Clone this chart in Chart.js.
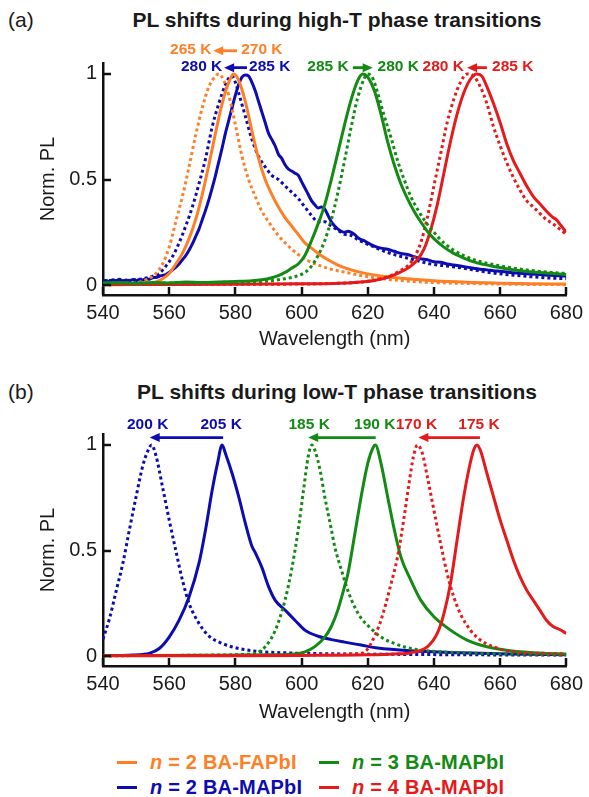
<!DOCTYPE html>
<html>
<head>
<meta charset="utf-8">
<title>PL shifts during phase transitions</title>
<style>
body { margin: 0; background: #fff; font-family: "Liberation Sans", Arial, sans-serif; color: #1a1a1a; }
#page { position: relative; width: 589px; height: 797px; overflow: hidden; }
canvas { position: absolute; left: 0; }
.tag { position: absolute; left: 8px; font-size: 21px; line-height: 24px; }
.ttl { position: absolute; left: 0; width: 674px; text-align: center; font-weight: bold; font-size: 21px; line-height: 24px; }
.leg { position: absolute; font-weight: bold; font-size: 20px; line-height: 24px; white-space: nowrap; letter-spacing: 0.2px; }
.leg i { font-weight: bold; }
.dash { position: absolute; width: 20px; height: 3px; }
</style>
</head>
<body>
<div id="page">
  <div class="tag" style="top:8px">(a)</div>
  <div class="ttl" style="top:8px">PL shifts during high-T phase transitions</div>
  <canvas id="chartA" width="589" height="352" style="top:0px"></canvas>

  <div class="tag" style="top:380px">(b)</div>
  <div class="ttl" style="top:380px">PL shifts during low-T phase transitions</div>
  <canvas id="chartB" width="589" height="354" style="top:371px"></canvas>

  <div class="dash" style="left:117px; top:761px; background:#ff7f27"></div>
  <div class="leg" style="left:150px; top:750px; color:#ff7f27"><i>n</i> = 2 BA-FAPbI</div>
  <div class="dash" style="left:319px; top:761px; background:#138a13"></div>
  <div class="leg" style="left:352px; top:750px; color:#138a13"><i>n</i> = 3 BA-MAPbI</div>
  <div class="dash" style="left:117px; top:786px; background:#0c0cb0"></div>
  <div class="leg" style="left:150px; top:775px; color:#0c0cb0"><i>n</i> = 2 BA-MAPbI</div>
  <div class="dash" style="left:319px; top:786px; background:#e51a1a"></div>
  <div class="leg" style="left:352px; top:775px; color:#e51a1a"><i>n</i> = 4 BA-MAPbI</div>
</div>

<script src="https://cdn.jsdelivr.net/npm/chart.js@4.4.1/dist/chart.umd.min.js"></script>
<script>
// tick values
const xTickVals = [540, 560, 580, 600, 620, 640, 660, 680];
const yTickVals = [0, 0.5, 1];

// ---- panel (a): high-T transitions, [wavelength nm, norm PL] ----
const aOrange270 = [[540,0.002],[545,0.002],[550,0.004],[553,0.007],[556,0.015],[558,0.03],[560,0.055],[562,0.1],[564,0.15],[566,0.22],[568,0.31],[570,0.43],[572,0.57],[574,0.72],[576,0.86],[578,0.96],[579.5,1.0],[581,0.97],[583,0.87],[585,0.73],[587,0.6],[589,0.5],[591,0.43],[593,0.37],[595,0.32],[597,0.28],[599,0.24],[601,0.2],[603,0.175],[605,0.15],[608,0.12],[611,0.095],[615,0.072],[620,0.053],[625,0.041],[630,0.032],[640,0.02],[650,0.013],[660,0.009],[670,0.006],[680,0.005]];
const aOrange265 = [[540,0.002],[545,0.004],[550,0.01],[553,0.025],[556,0.055],[558,0.1],[560,0.18],[562,0.3],[564,0.42],[566,0.56],[568,0.71],[570,0.84],[572,0.94],[574,0.99],[575,1.0],[576.5,0.97],[578,0.9],[580,0.76],[582,0.61],[584,0.5],[586,0.42],[588,0.35],[590,0.3],[593,0.235],[596,0.185],[599,0.145],[602,0.115],[605,0.095],[609,0.075],[614,0.058],[619,0.042],[624,0.031],[629,0.023],[635,0.016],[640,0.012],[650,0.008],[660,0.005],[670,0.003],[680,0.002]];
const aBlue285 = [[540,0.018],[541,0.022],[542,0.015],[543,0.025],[544,0.02],[545,0.028],[546,0.018],[547,0.024],[548,0.02],[549,0.026],[550,0.02],[551,0.027],[552,0.024],[553,0.03],[554,0.028],[555,0.035],[556,0.036],[557,0.042],[558,0.046],[559,0.05],[560,0.06],[561,0.072],[562,0.085],[563,0.1],[564,0.12],[565,0.14],[566,0.165],[567,0.195],[568,0.23],[569,0.265],[570,0.31],[571,0.355],[572,0.405],[573,0.46],[574,0.52],[575,0.585],[576,0.65],[577,0.72],[578,0.78],[579,0.84],[580,0.9],[581,0.95],[582,0.985],[583,0.995],[584,0.99],[585,0.96],[586,0.92],[587,0.87],[588,0.82],[589,0.77],[590,0.72],[591,0.69],[592,0.66],[593,0.62],[594,0.6],[595,0.57],[596,0.55],[597,0.54],[598,0.53],[599,0.52],[600,0.49],[601,0.46],[602,0.43],[603,0.4],[604,0.38],[605,0.365],[606,0.37],[607,0.36],[608,0.33],[609,0.3],[610,0.28],[611,0.265],[612,0.255],[613,0.25],[614,0.255],[615,0.25],[616,0.24],[617,0.225],[618,0.215],[619,0.21],[620,0.2],[622,0.185],[624,0.175],[626,0.17],[628,0.16],[630,0.15],[632,0.145],[634,0.135],[636,0.125],[638,0.12],[640,0.11],[642,0.108],[644,0.1],[646,0.095],[648,0.09],[650,0.085],[652,0.08],[654,0.075],[656,0.072],[658,0.068],[660,0.065],[663,0.06],[666,0.056],[669,0.052],[672,0.05],[675,0.046],[678,0.044],[680,0.042]];
const aBlue280 = [[540,0.02],[543,0.022],[546,0.02],[549,0.025],[552,0.03],[555,0.042],[557,0.055],[559,0.09],[561,0.135],[563,0.2],[565,0.28],[567,0.37],[569,0.48],[571,0.6],[573,0.75],[575,0.86],[577,0.95],[578,0.98],[579,0.99],[580,0.96],[581,0.91],[583,0.8],[585,0.69],[587,0.61],[589,0.56],[591,0.52],[593,0.5],[595,0.47],[597,0.44],[599,0.41],[601,0.37],[603,0.33],[605,0.3],[607,0.3],[609,0.28],[611,0.26],[613,0.24],[615,0.235],[617,0.215],[619,0.2],[622,0.18],[625,0.16],[629,0.14],[634,0.12],[639,0.1],[644,0.09],[649,0.08],[654,0.066],[659,0.055],[664,0.047],[669,0.04],[674,0.034],[680,0.03]];
const aGreen285 = [[540,0.01],[545,0.012],[550,0.008],[555,0.012],[560,0.01],[565,0.014],[570,0.012],[575,0.015],[580,0.017],[585,0.02],[588,0.025],[591,0.035],[593,0.045],[595,0.06],[597,0.08],[599,0.1],[601,0.14],[603,0.21],[605,0.29],[607,0.38],[609,0.5],[611,0.63],[613,0.76],[615,0.88],[617,0.97],[618.5,1.0],[620,0.985],[622,0.92],[624,0.81],[626,0.68],[628,0.57],[630,0.48],[632,0.41],[634,0.35],[636,0.3],[638,0.255],[640,0.22],[643,0.18],[646,0.15],[649,0.128],[652,0.11],[655,0.098],[658,0.088],[661,0.08],[665,0.07],[669,0.063],[673,0.058],[677,0.054],[680,0.05]];
const aGreen280 = [[540,0.008],[550,0.01],[560,0.01],[570,0.012],[580,0.014],[590,0.02],[595,0.03],[598,0.04],[601,0.06],[603,0.09],[605,0.14],[607,0.21],[609,0.31],[611,0.44],[613,0.59],[615,0.75],[617,0.89],[619,0.98],[620,1.0],[621.5,0.98],[623,0.91],[625,0.8],[627,0.7],[629,0.59],[631,0.5],[633,0.42],[635,0.36],[637,0.31],[640,0.25],[643,0.2],[646,0.165],[649,0.14],[652,0.12],[655,0.107],[659,0.094],[664,0.08],[669,0.07],[674,0.062],[680,0.055]];
const aRed285 = [[540,0.003],[560,0.003],[580,0.004],[600,0.006],[610,0.008],[615,0.011],[619,0.016],[622,0.022],[625,0.032],[628,0.048],[631,0.07],[633,0.09],[635,0.12],[637,0.17],[639,0.26],[641,0.38],[643,0.53],[645,0.68],[647,0.81],[649,0.91],[651,0.975],[653,1.0],[654.5,0.99],[656,0.94],[658,0.86],[660,0.77],[662,0.67],[664,0.59],[666,0.53],[668,0.47],[670,0.42],[672,0.385],[674,0.35],[676,0.32],[677,0.31],[678,0.29],[679,0.27],[680,0.25]];
const aRed280 = [[540,0.002],[560,0.003],[580,0.004],[600,0.005],[610,0.008],[615,0.011],[620,0.018],[624,0.03],[627,0.045],[630,0.07],[632,0.09],[634,0.13],[636,0.2],[638,0.32],[640,0.47],[642,0.62],[644,0.77],[646,0.88],[648,0.96],[650,1.0],[652,0.99],[654,0.94],[656,0.86],[658,0.75],[660,0.66],[662,0.58],[664,0.51],[666,0.45],[668,0.4],[670,0.37],[672,0.34],[674,0.31],[676,0.29],[678,0.265],[680,0.24]];

// ---- panel (b): low-T transitions ----
const bBlue205 = [[540,0.003],[545,0.003],[549,0.005],[552,0.008],[554,0.013],[557,0.036],[560,0.09],[563,0.17],[566,0.28],[569,0.44],[571,0.6],[573,0.787],[574.6,0.913],[576,1.0],[577,0.96],[579,0.866],[581,0.755],[583,0.63],[585,0.52],[586,0.49],[588,0.42],[590,0.33],[592,0.265],[595,0.218],[598,0.17],[601,0.123],[605,0.094],[609,0.078],[613,0.066],[618,0.052],[623,0.038],[633,0.025],[648,0.016],[663,0.01],[680,0.006]];
const bBlue200 = [[540,0.08],[542,0.18],[544,0.31],[546,0.44],[548,0.6],[550,0.755],[552,0.9],[553.5,0.97],[554.7,1.0],[556,0.95],[558,0.8],[560,0.645],[562,0.5],[564,0.36],[566,0.25],[569,0.155],[572,0.095],[576,0.06],[581,0.036],[587,0.022],[594,0.016],[604,0.012],[614,0.01],[630,0.008],[650,0.006],[680,0.005]];
const bGreen190 = [[540,0.003],[570,0.004],[590,0.006],[598,0.01],[601,0.02],[604,0.045],[607,0.09],[609,0.14],[611,0.22],[613,0.33],[614,0.39],[616,0.57],[618,0.755],[620,0.913],[621.5,0.984],[622.3,1.0],[624,0.913],[626,0.755],[628,0.6],[630,0.47],[633,0.36],[636,0.265],[640,0.186],[645,0.123],[650,0.076],[656,0.044],[663,0.025],[673,0.013],[680,0.01]];
const bGreen185 = [[540,0.002],[560,0.003],[575,0.005],[583,0.008],[586,0.013],[589,0.044],[592,0.12],[595,0.265],[597,0.41],[599,0.6],[600.6,0.787],[602,0.945],[603.1,1.0],[604,0.976],[605.6,0.88],[607,0.755],[609,0.6],[610,0.52],[612,0.41],[614,0.31],[616,0.234],[618,0.18],[621,0.13],[624,0.09],[628,0.06],[633,0.036],[638,0.025],[648,0.016],[663,0.01],[680,0.006]];
const bRed175 = [[540,0.002],[580,0.002],[600,0.003],[620,0.006],[628,0.01],[633,0.016],[638,0.044],[641,0.107],[643,0.2],[645,0.344],[647,0.55],[649,0.755],[650.5,0.88],[652,0.976],[653,1.0],[654,0.976],[656,0.866],[658,0.755],[660,0.645],[662,0.55],[664,0.455],[666,0.376],[668,0.313],[670,0.265],[672,0.218],[674,0.17],[676,0.14],[678,0.126],[680,0.107]];
const bRed170 = [[540,0.002],[580,0.003],[600,0.005],[610,0.007],[615,0.01],[618,0.013],[619.5,0.025],[621,0.06],[624,0.17],[627,0.34],[629,0.47],[631,0.66],[632.5,0.82],[633.8,0.945],[635,1.0],[636.5,0.96],[638,0.85],[640,0.69],[642,0.534],[644,0.39],[646,0.28],[648,0.2],[651,0.123],[654,0.076],[658,0.044],[664,0.02],[673,0.013],[680,0.01]];

const ORANGE = '#ff7f27', BLUE = '#0c0cb0', GREEN = '#138a13', RED = '#e51a1a';

function ds(points, color, dotted) {
  return {
    data: points.map(p => ({ x: p[0], y: p[1] })),
    borderColor: color,
    borderWidth: 3,
    borderDash: dotted ? [3, 3] : [],
    pointRadius: 0,
    cubicInterpolationMode: 'monotone',
    fill: false
  };
}

// labels / arrows above the peaks, placed in data units
const notesA = {
  texts: [
    ['265 K', 566.5, 1.113, ORANGE], ['270 K', 588.0, 1.113, ORANGE],
    ['280 K', 569.8, 1.033, BLUE], ['285 K', 590.4, 1.033, BLUE],
    ['285 K', 608.0, 1.033, GREEN], ['280 K', 629.2, 1.033, GREEN],
    ['280 K', 642.8, 1.033, RED], ['285 K', 663.8, 1.033, RED]
  ],
  arrows: [
    [580.5, 573.3, 1.11, ORANGE], [583.5, 576.6, 1.03, BLUE],
    [615.5, 621.5, 1.03, GREEN], [656.0, 650.0, 1.03, RED]
  ]
};
const notesB = {
  texts: [
    ['200 K', 553.5, 1.094, BLUE], ['205 K', 575.7, 1.094, BLUE],
    ['185 K', 602.3, 1.094, GREEN], ['190 K', 622.1, 1.094, GREEN],
    ['170 K', 634.7, 1.094, RED], ['175 K', 653.6, 1.094, RED]
  ],
  arrows: [
    [576.3, 554.1, 1.035, BLUE], [622.4, 602.0, 1.035, GREEN], [653.9, 635.3, 1.035, RED]
  ]
};

function notesPlugin(notes) {
  return {
    id: 'notes',
    afterDraw(chart) {
      const { ctx, chartArea, scales: { x, y } } = chart;
      ctx.save();
      // inward tick marks
      ctx.strokeStyle = '#111';
      ctx.lineWidth = 2.5;
      xTickVals.forEach(v => {
        const px = Math.round(x.getPixelForValue(v));
        ctx.beginPath(); ctx.moveTo(px, chartArea.bottom); ctx.lineTo(px, chartArea.bottom - 8); ctx.stroke();
      });
      yTickVals.forEach(v => {
        const py = Math.round(y.getPixelForValue(v));
        ctx.beginPath(); ctx.moveTo(chartArea.left, py); ctx.lineTo(chartArea.left + 8, py); ctx.stroke();
      });
      // temperature labels
      ctx.font = 'bold 15.5px "Liberation Sans", Arial, sans-serif';
      ctx.textAlign = 'center';
      ctx.textBaseline = 'middle';
      notes.texts.forEach(t => {
        ctx.fillStyle = t[3];
        ctx.fillText(t[0], x.getPixelForValue(t[1]), y.getPixelForValue(t[2]));
      });
      // arrows: tail -> head
      notes.arrows.forEach(a => {
        const x0 = x.getPixelForValue(a[0]), x1 = x.getPixelForValue(a[1]), py = y.getPixelForValue(a[2]);
        const dir = x1 > x0 ? 1 : -1;
        ctx.strokeStyle = a[3]; ctx.fillStyle = a[3];
        ctx.lineWidth = 2.8;
        ctx.beginPath(); ctx.moveTo(x0, py); ctx.lineTo(x1 - dir * 6, py); ctx.stroke();
        ctx.beginPath();
        ctx.moveTo(x1, py); ctx.lineTo(x1 - dir * 10, py - 4.5); ctx.lineTo(x1 - dir * 10, py + 4.5);
        ctx.closePath(); ctx.fill();
      });
      ctx.restore();
    }
  };
}

Chart.defaults.font.family = '"Liberation Sans", Arial, sans-serif';
Chart.defaults.color = '#1a1a1a';

function makeChart(id, datasets, notes, axisH) {
  return new Chart(document.getElementById(id), {
    type: 'line',
    data: { datasets: datasets },
    options: {
      responsive: false,
      animation: false,
      layout: { padding: { top: 63, right: 19, left: 0, bottom: 0 } },
      plugins: { legend: { display: false }, tooltip: { enabled: false } },
      scales: {
        x: {
          type: 'linear', min: 540, max: 680,
          ticks: { stepSize: 20, padding: 6, font: { size: 20 }, maxRotation: 0, autoSkip: false },
          grid: { display: false, drawTicks: false },
          border: { display: true, color: '#111', width: 2.5 },
          title: { display: true, text: 'Wavelength (nm)', font: { size: 20 }, padding: { top: 0, bottom: 1 } },
          afterFit: s => { s.height = axisH; }
        },
        y: {
          min: -0.047, max: 1.052,
          afterBuildTicks: s => { s.ticks = yTickVals.map(v => ({ value: v })); },
          ticks: { padding: 6, font: { size: 20 }, callback: v => String(v) },
          grid: { display: false, drawTicks: false },
          border: { display: true, color: '#111', width: 2.5 },
          title: { display: true, text: 'Norm. PL', font: { size: 20 }, padding: { top: 36, bottom: 0 } },
          afterFit: s => { s.width = 103; }
        }
      }
    },
    plugins: [notesPlugin(notes)]
  });
}

makeChart('chartA', [
  ds(aGreen280, GREEN, true), ds(aGreen285, GREEN, false),
  ds(aRed280, RED, true), ds(aRed285, RED, false),
  ds(aOrange265, ORANGE, true), ds(aOrange270, ORANGE, false),
  ds(aBlue280, BLUE, true), ds(aBlue285, BLUE, false)
], notesA, 57);

makeChart('chartB', [
  ds(bRed170, RED, true), ds(bRed175, RED, false),
  ds(bGreen185, GREEN, true), ds(bGreen190, GREEN, false),
  ds(bBlue200, BLUE, true), ds(bBlue205, BLUE, false)
], notesB, 59);
</script>
</body>
</html>
